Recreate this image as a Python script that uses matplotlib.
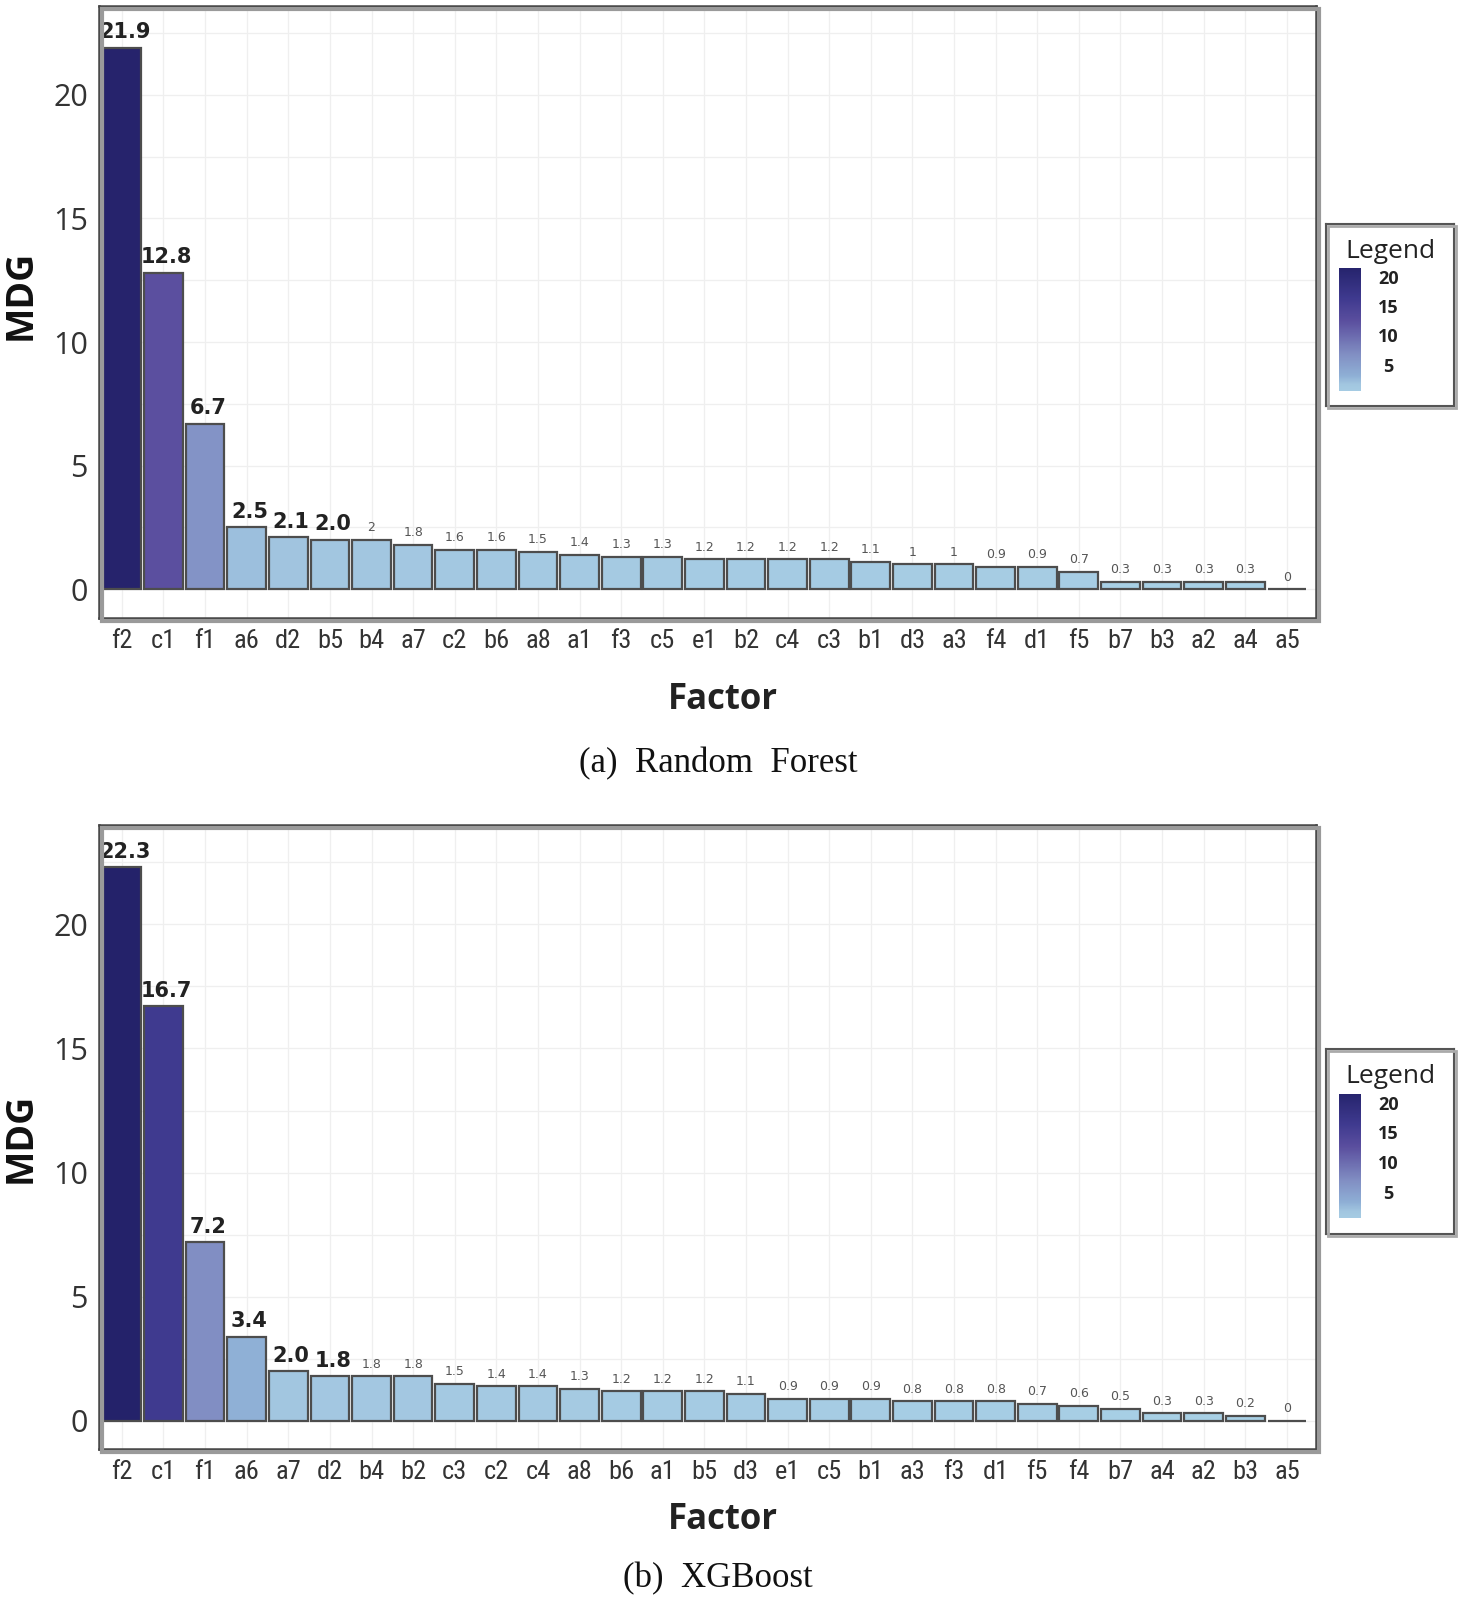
import matplotlib
matplotlib.use("Agg")
import matplotlib.pyplot as plt
import numpy as np
from matplotlib import font_manager
from matplotlib.colors import LinearSegmentedColormap, Normalize
from matplotlib.patches import Rectangle
from matplotlib.transforms import blended_transform_factory

# ---------------- data ----------------
rf_factors = ["f2", "c1", "f1", "a6", "d2", "b5", "b4", "a7", "c2", "b6", "a8", "a1", "f3", "c5",
              "e1", "b2", "c4", "c3", "b1", "d3", "a3", "f4", "d1", "f5", "b7", "b3", "a2", "a4", "a5"]
rf_values = [21.9, 12.8, 6.7, 2.5, 2.1, 2.0, 2.0, 1.8, 1.6, 1.6, 1.5, 1.4, 1.3, 1.3,
             1.2, 1.2, 1.2, 1.2, 1.1, 1.0, 1.0, 0.9, 0.9, 0.7, 0.3, 0.3, 0.3, 0.3, 0.0]
rf_labels = ["21.9", "12.8", "6.7", "2.5", "2.1", "2.0", "2", "1.8", "1.6", "1.6", "1.5", "1.4", "1.3", "1.3",
             "1.2", "1.2", "1.2", "1.2", "1.1", "1", "1", "0.9", "0.9", "0.7", "0.3", "0.3", "0.3", "0.3", "0"]
rf_n_bold = 6

xgb_factors = ["f2", "c1", "f1", "a6", "a7", "d2", "b4", "b2", "c3", "c2", "c4", "a8", "b6", "a1",
               "b5", "d3", "e1", "c5", "b1", "a3", "f3", "d1", "f5", "f4", "b7", "a4", "a2", "b3", "a5"]
xgb_values = [22.3, 16.7, 7.2, 3.4, 2.0, 1.8, 1.8, 1.8, 1.5, 1.4, 1.4, 1.3, 1.2, 1.2,
              1.2, 1.1, 0.9, 0.9, 0.9, 0.8, 0.8, 0.8, 0.7, 0.6, 0.5, 0.3, 0.3, 0.2, 0.0]
xgb_labels = ["22.3", "16.7", "7.2", "3.4", "2.0", "1.8", "1.8", "1.8", "1.5", "1.4", "1.4", "1.3", "1.2", "1.2",
              "1.2", "1.1", "0.9", "0.9", "0.9", "0.8", "0.8", "0.8", "0.7", "0.6", "0.5", "0.3", "0.3", "0.2", "0"]
xgb_n_bold = 6

y_ticks = [0, 5, 10, 15, 20]
legend_ticks = [5, 10, 15, 20]
captions = ["(a)  Random  Forest", "(b)  XGBoost"]

# ---------------- fonts ----------------
names = {f.name for f in font_manager.fontManager.ttflist}
def pick(*cands):
    for c in cands:
        if c in names:
            return c
    return "DejaVu Sans"
narrow = pick("Liberation Sans Narrow", "Roboto Condensed", "Open Sans Condensed", "Roboto")
soft = pick("Open Sans", "Lato", "DejaVu Sans")
serif = pick("Liberation Serif", "DejaVu Serif")

# ---------------- colours ----------------
nodes = [(0.0, "#a9d1e6"), (2.0, "#a2c6e0"), (3.4, "#8fb0d6"), (7.0, "#8290c4"),
         (12.8, "#5b4f9f"), (16.7, "#3f3a8f"), (22.3, "#24226a")]
vmax = 22.3
cmap = LinearSegmentedColormap.from_list("mdg", [(v / vmax, c) for v, c in nodes])
norm = Normalize(0, vmax)

W, H = 1458, 1597
fig = plt.figure(figsize=(W / 100, H / 100), dpi=100)

def fx(px):
    return px / W
def fy(py):
    return 1 - py / H

def panel(factors, values, labels, n_bold, ax_px, ylim, leg_px, cb_px, mdg_y, factor_y, cap_y, caption):
    l, t, r, b = ax_px
    # shadow
    sh = Rectangle((fx(l) + 3 / W, fy(b) - 3 / H), fx(r) - fx(l), fy(t) - fy(b),
                   transform=fig.transFigure, fill=False, edgecolor="#9a9a9a", lw=3, zorder=0)
    fig.patches.append(sh)
    ax = fig.add_axes([fx(l), fy(b), fx(r) - fx(l), fy(t) - fy(b)])
    x = np.arange(len(factors))
    cols = cmap(norm(np.array(values)))
    ax.bar(x, values, width=0.93, color=cols, edgecolor="#4d4d4d", linewidth=1.6, zorder=3)
    for i, (v, s) in enumerate(zip(values, labels)):
        if i < n_bold:
            ax.annotate(s, (i, v), xytext=(2, 4), textcoords="offset points", ha="center", va="bottom",
                        fontsize=15, fontweight="bold", color="#222222", zorder=4)
        else:
            ax.annotate(s, (i, v), xytext=(0, 4), textcoords="offset points", ha="center", va="bottom",
                        fontsize=9, color="#555555", zorder=4)
    ax.set_xlim(-0.55, len(factors) - 0.3)
    ax.set_ylim(*ylim)
    ax.set_xticks(x)
    ax.set_xticklabels(factors, fontsize=19, family=[narrow, "DejaVu Sans"], color="#333333")
    ax.set_yticks(y_ticks)
    ax.set_yticklabels([str(v) for v in y_ticks], fontsize=22, family=[soft, "DejaVu Sans"], color="#333333")
    ax.set_yticks(np.arange(2.5, 25, 5), minor=True)
    ax.tick_params(axis="both", which="both", length=0)
    ax.tick_params(axis="x", pad=8)
    ax.tick_params(axis="y", pad=8)
    ax.grid(True, which="both", color="#efefef", lw=0.9, zorder=0)
    for sp in ax.spines.values():
        sp.set_color("#444444")
        sp.set_linewidth(1.8)
    fig.text(fx(21), fy(mdg_y), "MDG", rotation=90, ha="center", va="center", fontsize=27,
             fontweight="bold", family=[soft, "DejaVu Sans"], color="#111111")
    fig.text(fx(723), fy(factor_y), "Factor", ha="center", va="center", fontsize=25,
             fontweight="bold", family=[soft, "DejaVu Sans"], color="#222222")
    fig.text(fx(718), fy(cap_y), caption, ha="center", va="center", fontsize=25,
             family=[serif, "DejaVu Serif"], color="#111111")

    # legend box
    ll, lt, lr, lb = leg_px
    fig.patches.append(Rectangle((fx(ll) + 2 / W, fy(lb) - 2 / H), fx(lr) - fx(ll), fy(lt) - fy(lb),
                                 transform=fig.transFigure, fill=False, edgecolor="#aaaaaa", lw=2, zorder=0))
    lax = fig.add_axes([fx(ll), fy(lb), fx(lr) - fx(ll), fy(lt) - fy(lb)])
    lax.set_xticks([]); lax.set_yticks([])
    for sp in lax.spines.values():
        sp.set_color("#555555"); sp.set_linewidth(1.5)
    lax.text(0.5, 0.85, "Legend", transform=lax.transAxes, ha="center", va="center",
             fontsize=19, family=[soft, "DejaVu Sans"], color="#222222")
    cl, ct, cr, cbm = cb_px
    cax = fig.add_axes([fx(cl), fy(cbm), fx(cr) - fx(cl), fy(ct) - fy(cbm)])
    lo, hi = 0.9, 21.8
    grad = np.linspace(lo, hi, 256)[:, None]
    cax.imshow(grad, extent=[0, 1, lo, hi], aspect="auto", origin="lower", cmap=cmap, norm=norm)
    cax.set_xlim(0, 1); cax.set_ylim(lo, hi)
    cax.axis("off")
    tr = blended_transform_factory(cax.transAxes, cax.transData)
    for v in legend_ticks:
        cax.text(2.25, v, str(v), transform=tr, ha="center", va="center", fontsize=13,
                 fontweight="bold", family=[soft, "DejaVu Sans"], color="#222222")
    return ax

panel(rf_factors, rf_values, rf_labels, rf_n_bold, (99, 6, 1316, 618), (-1.17, 23.6),
      (1326, 224, 1454, 406), (1339, 268, 1361, 391), 295, 700, 764, captions[0])
panel(xgb_factors, xgb_values, xgb_labels, xgb_n_bold, (99, 825, 1316, 1449), (-1.13, 24.0),
      (1326, 1049, 1454, 1234), (1339, 1094, 1361, 1218), 1138, 1520, 1579, captions[1])

fig.savefig("out.png", dpi=100)
